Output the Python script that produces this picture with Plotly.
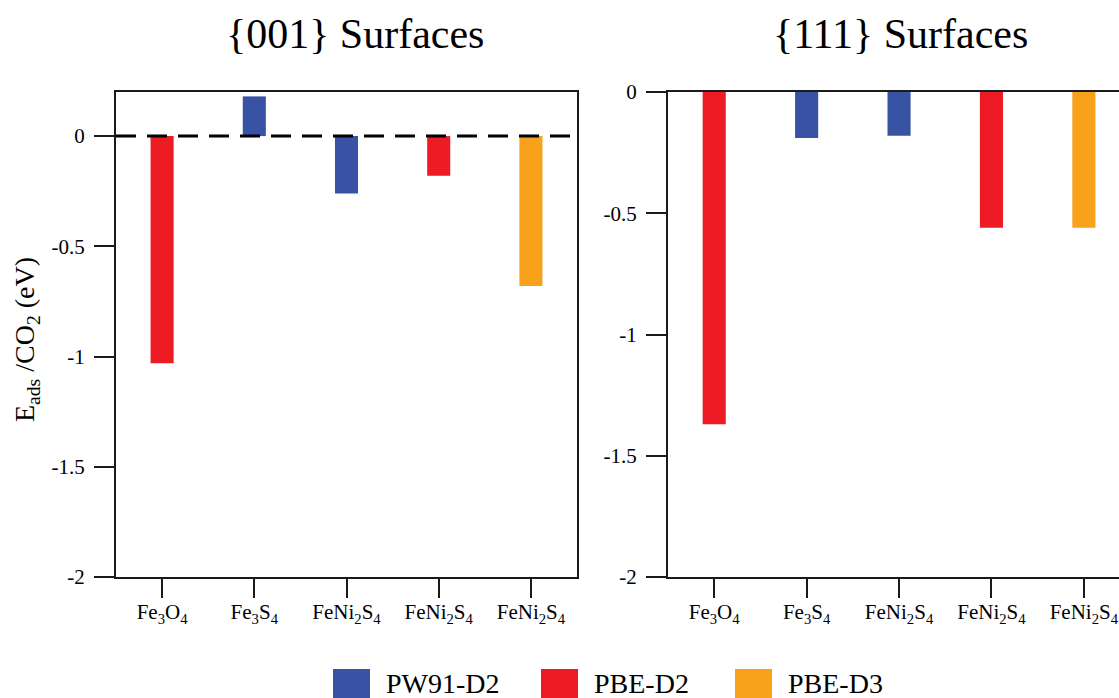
import plotly.graph_objects as go

# ---- data ----
labels = ["Fe<sub>3</sub>O<sub>4</sub>", "Fe<sub>3</sub>S<sub>4</sub>", "FeNi<sub>2</sub>S<sub>4</sub>",
          "FeNi<sub>2</sub>S<sub>4</sub>", "FeNi<sub>2</sub>S<sub>4</sub>"]
methods = ["PBE-D2", "PW91-D2", "PW91-D2", "PBE-D2", "PBE-D3"]
e_001 = [-1.03, 0.18, -0.26, -0.18, -0.68]
e_111 = [-1.37, -0.19, -0.18, -0.56, -0.56]
series_names = ["PW91-D2", "PBE-D2", "PBE-D3"]
series_colors = ["#3953A4", "#ED1C24", "#F8A21C"]
y_ticks = [0, -0.5, -1, -1.5, -2]
y_tick_text = ["0", "-0.5", "-1", "-1.5", "-2"]
panel_titles = ["{001} Surfaces", "{111} Surfaces"]

FONT = "Liberation Serif, Times New Roman, serif"
W, H = 1119, 698


def px(x):
    return x / W


def py(y):
    return 1 - y / H


fig = go.Figure()
positions = list(range(len(labels)))
for name, color in zip(series_names, series_colors):
    for panel, (vals, xa, ya) in enumerate([(e_001, "x", "y"), (e_111, "x2", "y2")]):
        xs = [p for p, m in zip(positions, methods) if m == name]
        ys = [v for v, m in zip(vals, methods) if m == name]
        fig.add_trace(go.Bar(
            x=xs, y=ys, name=name, marker=dict(color=color, line=dict(width=0)),
            width=0.25, xaxis=xa, yaxis=ya, legendgroup=name, showlegend=False,
        ))

axis_common = dict(showgrid=False, zeroline=False, showline=True, linecolor="#1a1a1a",
                   linewidth=2, ticks="outside", tickcolor="#1a1a1a", tickwidth=2,
                   automargin=False)
xtick_font = dict(family=FONT, size=21, color="black")
ytick_font = dict(family=FONT, size=21, color="black")

ydom = [py(577), py(92)]
fig.update_layout(
    width=W, height=H,
    margin=dict(l=0, r=0, t=0, b=0, autoexpand=False),
    paper_bgcolor="white", plot_bgcolor="white",
    barmode="overlay",
    font=dict(family=FONT, color="black"),
    showlegend=False,
    xaxis=dict(domain=[px(116), px(577)], range=[-0.5, 4.5], tickvals=positions, ticktext=labels,
               ticklen=19, mirror=True, anchor="y", tickfont=xtick_font,
               ticklabelstandoff=-4, **axis_common),
    yaxis=dict(domain=ydom, range=[-2, 0.2], tickvals=y_ticks, ticktext=y_tick_text,
               ticklen=20, mirror=True, anchor="x", tickfont=ytick_font,
               ticklabelstandoff=5, **axis_common),
    xaxis2=dict(domain=[px(668), 1.0], range=[-0.5, 4.38], tickvals=positions, ticktext=labels,
                ticklen=19, mirror=True, anchor="y2", tickfont=xtick_font,
                ticklabelstandoff=-4, **axis_common),
    yaxis2=dict(domain=ydom, range=[-2, 0], tickvals=y_ticks, ticktext=y_tick_text,
                ticklen=20, mirror=False, anchor="x2", tickfont=ytick_font,
                ticklabelstandoff=5, **axis_common),
)

# dashed zero reference line in the {001} panel
fig.add_shape(type="line", xref="x domain", yref="y", x0=0, x1=1, y0=0, y1=0,
              line=dict(color="black", width=3, dash="20px,11px"), layer="above")

# panel titles
for title, cx in zip(panel_titles, [355, 900]):
    fig.add_annotation(text=title, xref="paper", yref="paper", x=px(cx), y=py(34),
                       xanchor="center", yanchor="middle", showarrow=False,
                       font=dict(family=FONT, size=42, color="black"))

# y axis title
fig.add_annotation(text="E<sub>ads</sub> /CO<sub>2</sub> (eV)", xref="paper", yref="paper",
                   x=px(26), y=py(340), xanchor="center", yanchor="middle",
                   textangle=-90, showarrow=False,
                   font=dict(family=FONT, size=28, color="black"))

# legend (large square swatches, as in the original figure)
legend_left = [333, 541, 735]
for name, color, lx in zip(series_names, series_colors, legend_left):
    fig.add_shape(type="rect", xref="paper", yref="paper",
                  x0=px(lx), x1=px(lx + 37), y0=py(698), y1=py(669),
                  fillcolor=color, line=dict(width=0))
    fig.add_annotation(text=name, xref="paper", yref="paper", x=px(lx + 51), y=py(683),
                       xanchor="left", yanchor="middle", showarrow=False,
                       font=dict(family=FONT, size=28, color="black"))

fig.write_html("out.html", config={"displayModeBar": False},
               post_script="document.body.style.margin='0';document.body.style.overflow='hidden';")
